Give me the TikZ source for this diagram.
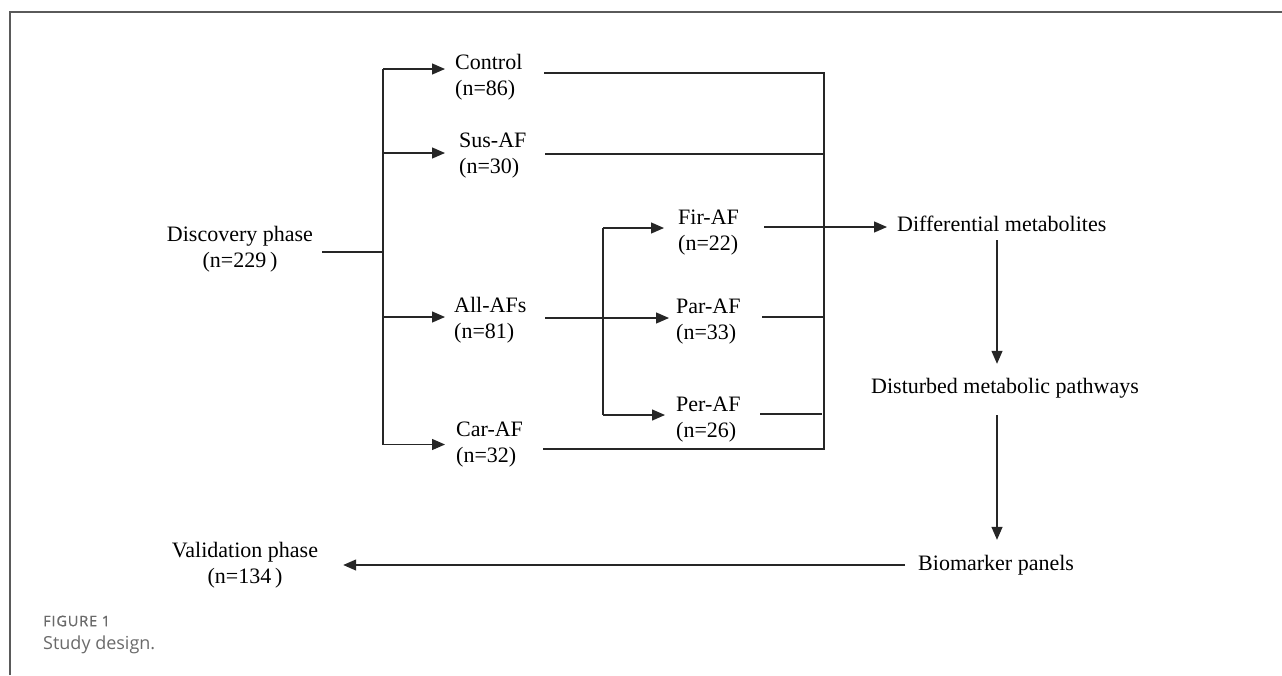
\documentclass[tikz,border=0pt]{standalone}
\usepackage{fontspec}
\setmainfont{Liberation Serif}
\newfontfamily\capfont{Open Sans}
\newfontfamily\capsemi{Open Sans}[FakeBold=0.9,LetterSpace=6]
\usetikzlibrary{arrows.meta,calc}
\definecolor{framegray}{HTML}{5A5A5A}
\definecolor{capgray}{HTML}{6A6A6A}
\tikzset{
  txt/.style={inner sep=0pt, font=\fontsize{22}{26}\selectfont},
  grp/.style={txt, anchor=west, align=left},
  ln/.style={line width=1.3pt, draw=black!85},
  arr/.style={ln, -{Triangle[length=13pt,width=11pt]}},
}
\begin{document}
\begin{tikzpicture}[x=1pt,y=-1pt]
\useasboundingbox (0,0) rectangle (1282,675);
% frame
\draw[framegray, line width=1.3pt] (10,675) -- (10,12) -- (1282,12);

% nodes
\node[txt, align=center] (disc) at (240,249.5) {Discovery phase\\(n=229\,)};
\node[grp, text width=89pt] (ctrl) at (455,77) {Control\\(n=86)};
\node[grp, text width=86pt] (sus) at (459,156) {Sus-AF\\(n=30)};
\node[grp, text width=91pt] (all) at (454,320) {All-AFs\\(n=81)};
\node[grp, text width=87pt] (car) at (456,444.5) {Car-AF\\(n=32)};
\node[grp, text width=86pt] (fir) at (678,233) {Fir-AF\\(n=22)};
\node[grp, text width=86pt] (par) at (676,322) {Par-AF\\(n=33)};
\node[grp, text width=84pt] (per) at (676,420) {Per-AF\\(n=26)};
\node[txt, anchor=west] (diff) at (897,224) {Differential metabolites};
\node[txt, anchor=west] (dist) at (871,388) {Disturbed metabolic pathways};
\node[txt, anchor=west] (bio) at (918,565) {Biomarker panels};
\node[txt, align=center] (val) at (245,565) {Validation phase\\(n=134\,)};

% junction coordinates
\coordinate (lt) at (383,0);
\coordinate (st) at (603,0);
\coordinate (rt) at (824,0);
\coordinate (vx) at (997,0);

% discovery to left trunk
\draw[ln] ([xshift=9pt,yshift=-2.5pt]disc.east) -- ([yshift=-2.5pt]disc.east -| lt);
% left trunk
\draw[ln] ([yshift=8pt]ctrl.west -| lt) -- (car.west -| lt);
\draw[arr] ([yshift=8pt]ctrl.west -| lt) -- ([xshift=-10pt,yshift=8pt]ctrl.west);
\draw[arr] ([yshift=3pt]sus.west -| lt) -- ([xshift=-14pt,yshift=3pt]sus.west);
\draw[arr] ([yshift=3pt]all.west -| lt) -- ([xshift=-9pt,yshift=3pt]all.west);
\draw[arr] (car.west -| lt) -- ([xshift=-11pt]car.west);

% sub trunk
\draw[ln] ([yshift=5pt]fir.west -| st) -- ([yshift=5pt]per.west -| st);
\draw[arr] ([yshift=2pt]all.east) -- ([xshift=-7pt,yshift=2pt]all.east -| par.west);
\draw[arr] ([yshift=5pt]fir.west -| st) -- ([xshift=-14pt,yshift=5pt]fir.west);
\draw[arr] ([yshift=5pt]per.west -| st) -- ([xshift=-11pt,yshift=5pt]per.west);

% right collector
\draw[ln] ([yshift=4pt]ctrl.east) -- ([yshift=4pt]ctrl.east -| rt) -- ([yshift=-4.5pt]car.east -| rt) -- ([yshift=-4.5pt]car.east);
\draw[ln] ([yshift=2pt]sus.east) -- ([yshift=2pt]sus.east -| rt);
\draw[ln] ([yshift=5pt]par.east) -- ([yshift=5pt]par.east -| rt);
\draw[ln] ([yshift=6pt]per.east) -- ([xshift=-2pt,yshift=6pt]per.east -| rt);
\draw[arr] ([yshift=6pt]fir.east) -- ([xshift=-10pt,yshift=6pt]fir.east -| diff.west);

% right column
\draw[arr] ([yshift=-8pt]diff.south -| vx) -- ([yshift=14pt]dist.north -| vx);
\draw[arr] ([yshift=-17pt]dist.south -| vx) -- ([yshift=15pt]bio.north -| vx);
\draw[arr] ([xshift=-13pt]bio.west) -- ([xshift=25pt]bio.west -| val.east);

% caption
\node[anchor=west, inner sep=0pt, font=\capsemi\fontsize{14.5}{16}\selectfont, text=capgray] (figlbl) at (43,621) {FIGURE 1};
\node[anchor=west, inner sep=0pt, font=\capfont\fontsize{18}{22}\selectfont, text=capgray] (figcap) at (43,645) {Study design.};
\end{tikzpicture}
\end{document}
